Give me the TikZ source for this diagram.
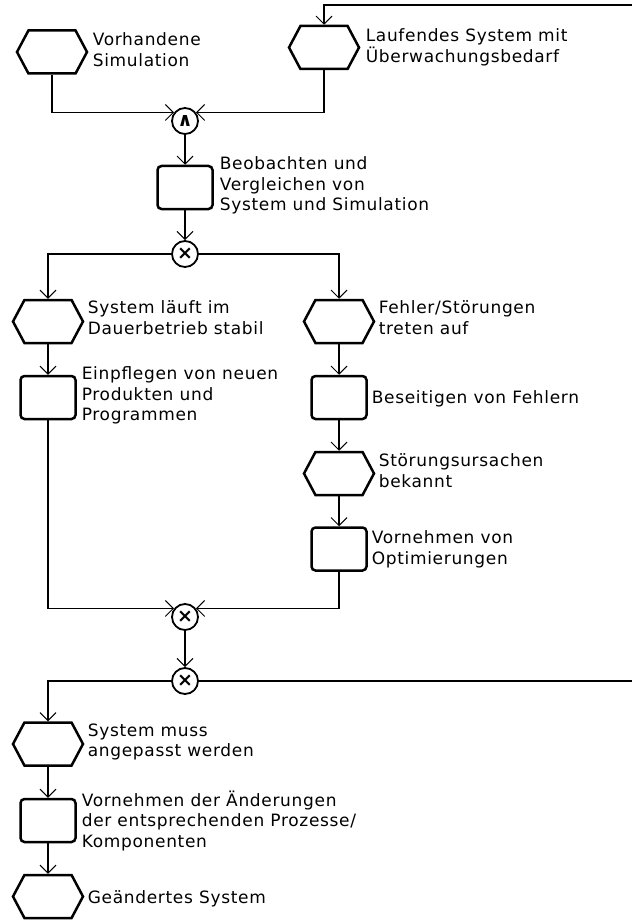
\documentclass[tikz,border=0pt]{standalone}
\usepackage{fontspec}
\setmainfont{DejaVu Sans}[LetterSpace=4.0]
\usetikzlibrary{shapes.symbols,arrows.meta}

\begin{document}
\begin{tikzpicture}[x=1pt,y=-1pt,line width=1.6pt,
>={Straight Barb[length=8pt,width=16pt,line width=1pt]},
event/.style={draw,signal,signal to=west and east,signal pointer angle=124,minimum width=70pt,minimum height=43pt,inner sep=0pt,line width=2.5pt},
func/.style={draw,rectangle,rounded corners=4pt,minimum width=55pt,minimum height=43pt,inner sep=0pt,line width=2.5pt},
conn/.style={circle,draw,minimum size=26pt,inner sep=0pt,line width=1.8pt,font=\fontsize{19}{19}\selectfont\bfseries},
lbl/.style={anchor=north west,inner sep=0pt,align=left,font=\fontsize{17}{20.5}\selectfont,execute at begin node={\rule{0pt}{17pt}}}]
\useasboundingbox (0,0) rectangle (632,920);

\draw (52,52) node[event] (E1) {};
\draw (324,47.5) node[event] (E2) {};
\draw (185,121) node[conn] (and) {∧};
\draw (185,187.5) node[func] (F1) {};
\draw (185,254) node[conn] (xs) {×};
\draw (48,321.5) node[event] (E3) {};
\draw (48,397.5) node[func] (F2) {};
\draw (339,321.5) node[event] (E4) {};
\draw (339,397.5) node[func] (F3) {};
\draw (339,473.5) node[event] (E5) {};
\draw (339,549) node[func] (F4) {};
\draw (185,617) node[conn] (xj) {×};
\draw (185,681) node[conn] (xs2) {×};
\draw (48,744) node[event] (E6) {};
\draw (48,820.5) node[func] (F5) {};
\draw (48,896.5) node[event] (E7) {};

\draw (92,32) node[lbl] (tE1) {Vorhandene\\Simulation};
\draw (365,28) node[lbl] (tE2) {Laufendes System mit\\Überwachungsbedarf};
\draw (219,156) node[lbl] (tF1) {Beobachten und\\Vergleichen von\\System und Simulation};
\draw (87,300) node[lbl] (tE3) {System läuft im\\Dauerbetrieb stabil};
\draw (81,366) node[lbl] (tF2) {Einpflegen von neuen\\Produkten und\\Programmen};
\draw (378,300) node[lbl] (tE4) {Fehler/Störungen\\treten auf};
\draw (371,386) node[lbl] (tF3) {Beseitigen von Fehlern};
\draw (378,453) node[lbl] (tE5) {Störungsursachen\\bekannt};
\draw (371,530) node[lbl] (tF4) {Vornehmen von\\Optimierungen};
\draw (87,723) node[lbl] (tE6) {System muss\\angepasst werden};
\draw (81,790) node[lbl] (tF5) {Vornehmen der Änderungen\\der entsprechenden Prozesse/\\Komponenten};
\draw (87,886) node[lbl] (tE7) {Geändertes System};

\coordinate (loopin) at (632,5);
\coordinate (loopout) at (632,681);

\draw[->] (loopin) -| (E2.north);
\draw[->] (E1.south) |- (and.142);
\draw[->] (E2.south) |- (and.38);
\draw[->] (and.south) -- (F1.north);
\draw[->] (F1.south) -- (xs.north);
\draw[->] (xs.west) -| (E3.north);
\draw[->] (xs.east) -| (E4.north);
\draw[->] (E3.south) -- (F2.north);
\draw[->] (E4.south) -- (F3.north);
\draw[->] (F3.south) -- (E5.north);
\draw[->] (E5.south) -- (F4.north);
\draw[->] (F2.south) |- (xj.142);
\draw[->] (F4.south) |- (xj.38);
\draw[->] (xj.south) -- (xs2.north);
\draw[->] (xs2.west) -| (E6.north);
\draw (xs2.east) -- (loopout);
\draw[->] (E6.south) -- (F5.north);
\draw[->] (F5.south) -- (E7.north);
\end{tikzpicture}
\end{document}
